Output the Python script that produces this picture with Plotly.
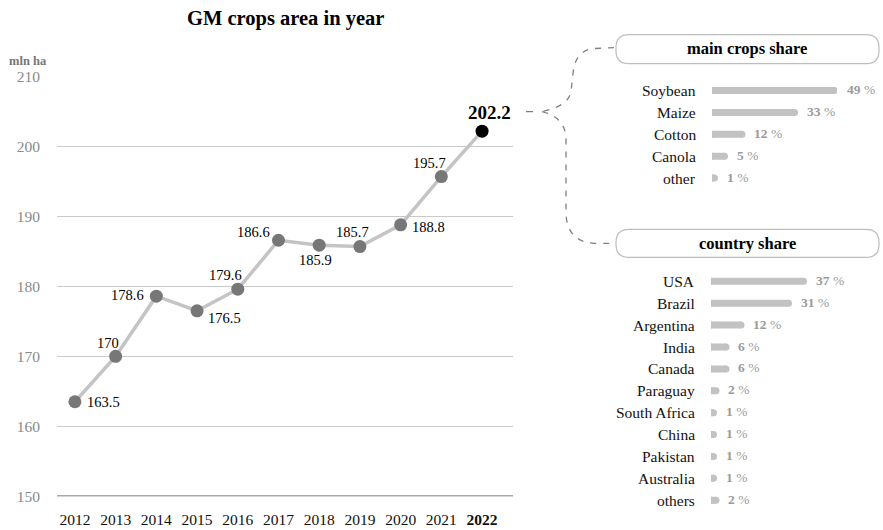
import plotly.graph_objects as go

# ---------------- data ----------------
years = [2012, 2013, 2014, 2015, 2016, 2017, 2018, 2019, 2020, 2021, 2022]
area = [163.5, 170, 178.6, 176.5, 179.6, 186.6, 185.9, 185.7, 188.8, 195.7, 202.2]
area_labels = ["163.5", "170", "178.6", "176.5", "179.6", "186.6", "185.9", "185.7", "188.8", "195.7", "202.2"]
y_ticks = [150, 160, 170, 180, 190, 200, 210]

crops = ["Soybean", "Maize", "Cotton", "Canola", "other"]
crop_share = [49, 33, 12, 5, 1]

countries = ["USA", "Brazil", "Argentina", "India", "Canada", "Paraguay",
             "South Africa", "China", "Pakistan", "Australia", "others"]
country_share = [37, 31, 12, 6, 6, 2, 1, 1, 1, 1, 2]

# ---------------- styling helpers ----------------
W, H = 883, 530
FONT = "Liberation Serif"
# vertical calibration of the page capture
SY, OY = 0.969, 7.3
fx = lambda px: px / W
fy = lambda py: 1 - ((py - OY) / SY) / H

# label offsets (pixels) for each point label: (xshift, yshift, xanchor)
lab_off = [(10, 0, "left"), (-8, 13, "center"), (-10, 1, "right"), (9, -7, "left"),
           (-12, 14, "center"), (-6, 8, "right"), (-4, -15, "center"), (-7, 15, "center"),
           (9, -2, "left"), (-12, 14, "center"), (7, 19, "center")]

fig = go.Figure()

# main line
fig.add_trace(go.Scatter(
    x=years, y=area, mode="lines+markers",
    line=dict(color="#c4c4c4", width=3.5),
    marker=dict(size=13, color=["#777777"] * (len(years) - 1) + ["#000000"]),
    hoverinfo="skip", xaxis="x", yaxis="y", showlegend=False))

annotations = []
for i, (yr, v, t) in enumerate(zip(years, area, area_labels)):
    xs, ys, xa = lab_off[i]
    last = i == len(years) - 1
    annotations.append(dict(
        x=yr, y=v, xref="x", yref="y", text=f"<b>{t}</b>" if last else t,
        showarrow=False, xshift=xs, yshift=ys, xanchor=xa, yanchor="middle",
        font=dict(family=FONT, size=19 if last else 14.5, color="#000")))

# share bars (line segments with round caps from markers)
def bar_trace(names, vals, xa, ya):
    xs, ys = [], []
    for n, v in zip(names, vals):
        xs += [0, v, None]
        ys += [n, n, None]
    return go.Scatter(x=xs, y=ys, mode="lines+markers",
                      line=dict(color="#c2c2c2", width=7),
                      marker=dict(size=7, color="#c2c2c2"),
                      xaxis=xa, yaxis=ya, hoverinfo="skip", showlegend=False)

fig.add_trace(bar_trace(crops, crop_share, "x2", "y2"))
fig.add_trace(bar_trace(countries, country_share, "x3", "y3"))

for names, vals, xr, yr in [(crops, crop_share, "x2", "y2"), (countries, country_share, "x3", "y3")]:
    for n, v in zip(names, vals):
        annotations.append(dict(x=0, y=n, xref=xr, yref=yr, text=n, showarrow=False,
                                xanchor="right", xshift=-14, yanchor="middle",
                                font=dict(family=FONT, size=15.5, color="#111")))
        annotations.append(dict(x=v, y=n, xref=xr, yref=yr,
                                text=f"<b>{v}</b> %", showarrow=False,
                                xanchor="left", xshift=10, yanchor="middle", yshift=1,
                                font=dict(family=FONT, size=13.5, color="#9a9a9a")))

# title, unit and panel headers
def paper_text(px, py, text, size, color):
    return dict(x=fx(px), y=fy(py), xref="paper", yref="paper", text=text,
                showarrow=False, xanchor="center", yanchor="middle",
                font=dict(family=FONT, size=size, color=color))

annotations.append(paper_text(285, 17, "<b>GM crops area in year</b>", 20.5, "#000"))
annotations.append(paper_text(28, 59, "<b>mln ha</b>", 12.5, "#777"))
annotations.append(paper_text(747, 47, "<b>main crops share</b>", 16.5, "#000"))
annotations.append(paper_text(747, 242, "<b>country share</b>", 16.5, "#000"))

# shapes: rounded boxes and dashed brace
def rounded_rect(x0, y0, x1, y1, r):
    s = f"M {fx(x0 + r)},{fy(y0)} L {fx(x1 - r)},{fy(y0)} "
    s += f"Q {fx(x1)},{fy(y0)} {fx(x1)},{fy(y0 + r)} "
    s += f"L {fx(x1)},{fy(y1 - r)} Q {fx(x1)},{fy(y1)} {fx(x1 - r)},{fy(y1)} "
    s += f"L {fx(x0 + r)},{fy(y1)} Q {fx(x0)},{fy(y1)} {fx(x0)},{fy(y1 - r)} "
    s += f"L {fx(x0)},{fy(y0 + r)} Q {fx(x0)},{fy(y0)} {fx(x0 + r)},{fy(y0)} Z"
    return s

def path(pts_cmds):
    out = []
    for c, *pts in pts_cmds:
        out.append(c + " " + " ".join(f"{fx(a)},{fy(b)}" for a, b in pts))
    return " ".join(out)

brace_line = dict(color="#808080", width=1.3, dash="6px,7px")
shapes = [
    dict(type="path", xref="paper", yref="paper", path=rounded_rect(616, 33, 879, 62, 13),
         line=dict(color="#bdbdbd", width=1.2), fillcolor="rgba(0,0,0,0)"),
    dict(type="path", xref="paper", yref="paper", path=rounded_rect(616, 228, 879, 256, 13),
         line=dict(color="#bdbdbd", width=1.2), fillcolor="rgba(0,0,0,0)"),
    dict(type="path", xref="paper", yref="paper",
         path=path([("M", (614, 46)), ("L", (592, 47)), ("Q", (575, 50), (573, 72)),
                    ("L", (571, 90)), ("Q", (569, 104), (542, 110))]),
         line=brace_line),
    dict(type="path", xref="paper", yref="paper",
         path=path([("M", (542, 110)), ("Q", (566, 116), (566, 138)),
                    ("L", (566, 212)), ("Q", (567, 240), (594, 242)), ("L", (614, 242))]),
         line=brace_line),
    dict(type="line", xref="paper", yref="paper", x0=fx(526), x1=fx(533), y0=fy(110), y1=fy(110),
         line=dict(color="#808080", width=1.3)),
]

fig.update_layout(
    width=W, height=H, autosize=False,
    margin=dict(l=0, r=0, t=0, b=0),
    paper_bgcolor="white", plot_bgcolor="white",
    showlegend=False,
    annotations=annotations, shapes=shapes,
    xaxis=dict(domain=[fx(57), fx(513)], range=[2011.56, 2022.76],
               tickvals=years,
               ticktext=[str(y) for y in years[:-1]] + [f"<b>{years[-1]}</b>"],
               showgrid=False, zeroline=False, showline=False, ticks="",
               ticklabelstandoff=12,
               tickfont=dict(family=FONT, size=15.5, color="#111"), fixedrange=True),
    yaxis=dict(domain=[fy(495), fy(75)], range=[150, 210], tickvals=y_ticks,
               showgrid=True, gridcolor="#c9c9c9", gridwidth=1, zeroline=False,
               showline=False, ticks="", ticklabelstandoff=16,
               tickfont=dict(family=FONT, size=15.5, color="#8a8a8a"), fixedrange=True),
    xaxis2=dict(domain=[fx(712), fx(837)], range=[0, 50], visible=False, anchor="y2"),
    yaxis2=dict(domain=[fy(187.5), fy(78)], range=[len(crops) - 0.5, -0.5],
                type="category", visible=False, anchor="x2"),
    xaxis3=dict(domain=[fx(711), fx(836)], range=[0, 50], visible=False, anchor="y3"),
    yaxis3=dict(domain=[fy(510), fy(269)], range=[len(countries) - 0.5, -0.5],
                type="category", visible=False, anchor="x3"),
)

# bottom axis line at 150
fig.add_shape(type="line", xref="x domain", yref="y", x0=0, x1=1, y0=150, y1=150,
              line=dict(color="#555", width=1.5))

fig.write_html("out.html", config={"displayModeBar": False})
